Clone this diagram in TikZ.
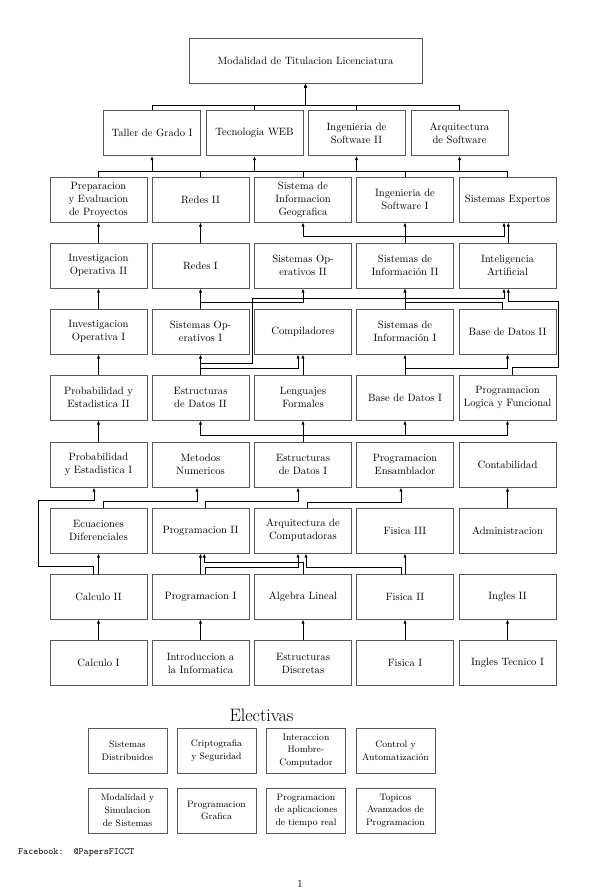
\documentclass[tikz,border=0pt]{standalone}
\usetikzlibrary{arrows.meta}
\begin{document}
\begin{tikzpicture}[x=1pt,y=-1pt,
  box/.style={draw=black!65,line width=1pt,minimum width=97pt,minimum height=45pt,inner sep=0pt,align=center,font=\fontsize{10.6}{13}\selectfont},
  ebox/.style={draw=black!65,line width=1pt,minimum width=79pt,minimum height=45pt,inner sep=0pt,align=center,font=\fontsize{9.4}{12.7}\selectfont},
  con/.style={line width=0.75pt,black},
  arr/.style={con,-{Latex[length=4pt,width=3.2pt]}}]
\useasboundingbox (0,0) rectangle (599,894);
% top
\node[box,minimum width=233pt] (top) at (305.5,60.5) {Modalidad de Titulacion Licenciatura};
% row 1
\node[box] (tg) at (152,133) {Taller de Grado I};
\node[box] (web) at (254.5,133) {Tecnologia WEB};
\node[box] (isw2) at (356.5,133) {Ingenieria de\\Software II};
\node[box] (arqs) at (459.5,133) {Arquitectura\\de Software};
% row 2
\node[box] (prep) at (98.5,199.5) {Preparacion\\y Evaluacion\\de Proyectos};
\node[box] (redes2) at (200.5,199.5) {Redes II};
\node[box] (sig) at (303,199.5) {Sistema de\\Informacion\\Geografica};
\node[box] (isw1) at (405,199.5) {Ingenieria de\\Software I};
\node[box] (se) at (507.5,199.5) {Sistemas Expertos};
% row 3
\node[box] (io2) at (98.5,265.5) {Investigacion\\Operativa II};
\node[box] (redes1) at (200.5,265.5) {Redes I};
\node[box] (so2) at (303,265.5) {Sistemas Op-\\erativos II};
\node[box] (si2) at (405,265.5) {Sistemas de\\Información II};
\node[box] (ia) at (507.5,265.5) {Inteligencia\\Artificial};
% row 4
\node[box] (io1) at (98.5,331.5) {Investigacion\\Operativa I};
\node[box] (so1) at (200.5,331.5) {Sistemas Op-\\erativos I};
\node[box] (comp) at (303,331.5) {Compiladores};
\node[box] (si1) at (405,331.5) {Sistemas de\\Información I};
\node[box] (bd2) at (507.5,331.5) {Base de Datos II};
% row 5
\node[box] (prob2) at (98.5,397.5) {Probabilidad y\\Estadistica II};
\node[box] (ed2) at (200.5,397.5) {Estructuras\\de Datos II};
\node[box] (lf) at (303,397.5) {Lenguajes\\Formales};
\node[box] (bd1) at (405,397.5) {Base de Datos I};
\node[box] (plf) at (507.5,397.5) {Programacion\\Logica y Funcional};
% row 6
\node[box] (prob1) at (98.5,464.5) {Probabilidad\\y Estadistica I};
\node[box] (mn) at (200.5,464.5) {Metodos\\Numericos};
\node[box] (ed1) at (303,464.5) {Estructuras\\de Datos I};
\node[box] (pe) at (405,464.5) {Programacion\\Ensamblador};
\node[box] (cont) at (507.5,464.5) {Contabilidad};
% row 7
\node[box] (ecu) at (98.5,530.5) {Ecuaciones\\Diferenciales};
\node[box] (prog2) at (200.5,530.5) {Programacion II};
\node[box] (arq) at (303,530.5) {Arquitectura de\\Computadoras};
\node[box] (fis3) at (405,530.5) {Fisica III};
\node[box] (adm) at (507.5,530.5) {Administracion};
% row 8
\node[box] (cal2) at (98.5,596.5) {Calculo II};
\node[box] (prog1) at (200.5,596.5) {Programacion I};
\node[box] (alg) at (303,596.5) {Algebra Lineal};
\node[box] (fis2) at (405,596.5) {Fisica II};
\node[box] (ing2) at (507.5,596.5) {Ingles II};
% row 9
\node[box] (cal1) at (98.5,663) {Calculo I};
\node[box] (intro) at (200.5,663) {Introduccion a\\la Informatica};
\node[box] (disc) at (303,663) {Estructuras\\Discretas};
\node[box] (fis1) at (405,663) {Fisica I};
\node[box] (ingt) at (507.5,663) {Ingles Tecnico I};

% R1 -> top
\foreach \n in {tg,web,isw2,arqs} \draw[arr] (\n.north) -- ++(0,-5) -| (top.south);
% R2 -> R1
\foreach \n in {tg,web,isw2,arqs} \draw[arr] (prep.north) -- ++(0,-5) -| (\n.south);
\foreach \n in {redes2,sig,isw1,se} \draw[con] (\n.north) -- ++(0,-5) -| (prep.north);
% R3 -> R2
\draw[arr] (io2.north) -- (prep.south);
\draw[arr] (redes1.north) -- (redes2.south);
\draw[arr] (si2.north) -- (isw1.south);
\draw[arr] (si2.north) -- ++(0,-6) -| (sig.south);
\draw[arr] (si2.north) -- ++(0,-6) -| ([xshift=-3.5pt]se.south);
\draw[arr] ([xshift=0.8pt]ia.north) -- ([xshift=0.8pt]se.south);
% R4 -> R3
\draw[arr] (io1.north) -- (io2.south);
\draw[arr] (so1.north) -- (redes1.south);
\draw[arr] (so1.north) -- ++(0,-6) -| (so2.south);
\draw[arr] (si1.north) -- (si2.south);
\draw[arr] ([xshift=-5.5pt]bd2.north) -- ++(0,-6) -| (si2.south);
% R5 -> R4
\draw[arr] (prob2.north) -- (io1.south);
\draw[arr] (ed2.north) -- (so1.south);
\draw[arr] (ed2.north) -- ++(0,-11) -| (252,298) -| ([xshift=-3.5pt]ia.south);
\draw[arr] (ed2.north) -- ++(0,-6) -| ([xshift=-5pt]comp.south);
\draw[arr] (lf.north) -- (comp.south);
\draw[arr] (bd1.north) -- (si1.south);
\draw[arr] (bd1.north) -- ++(0,-6) -| (bd2.south);
\draw[arr] ([xshift=4.5pt]plf.north) -- ++(0,-7) -| (558,301) -| ([xshift=0.8pt]ia.south);
% R6 -> R5
\draw[arr] (prob1.north) -- (prob2.south);
\draw[arr] (ed1.north) -- (lf.south);
\draw[arr] (ed1.north) -- ++(0,-6) -| (ed2.south);
\draw[arr] (ed1.north) -- ++(0,-6) -| (bd1.south);
\draw[arr] (ed1.north) -- ++(0,-6) -| (plf.south);
% R7 -> R6
\draw[arr] ([xshift=4.5pt]ecu.north) -- ++(0,-6) -| ([xshift=-3.5pt]mn.south);
\draw[arr] ([xshift=4.5pt]prog2.north) -- ++(0,-6) -| ([xshift=-5pt]ed1.south);
\draw[arr] ([xshift=4pt]arq.north) -- ++(0,-5) -| ([xshift=-4pt]pe.south);
\draw[arr] (adm.north) -- (cont.south);
% R8 -> R7
\draw[arr] (cal2.north) -- (ecu.south);
\draw[arr] ([xshift=-5.5pt]cal2.north) -- ++(0,-7) -| (38,500) -| ([xshift=-4.5pt]prob1.south);
\draw[arr] (prog1.north) -- (prog2.south);
\draw[arr] (alg.north) -- ++(0,-11) -| ([xshift=3.8pt]prog2.south);
\draw[arr] ([xshift=5pt]prog1.north) -- ++(0,-6) -| ([xshift=-5pt]arq.south);
\draw[arr] ([xshift=-4pt]fis2.north) -- ++(0,-6) -| ([xshift=3pt]arq.south);
\draw[arr] (fis2.north) -- (fis3.south);
% R9 -> R8
\draw[arr] (cal1.north) -- (cal2.south);
\draw[arr] (intro.north) -- (prog1.south);
\draw[arr] (disc.north) -- (alg.south);
\draw[arr] (fis1.north) -- (fis2.south);
\draw[arr] (ingt.north) -- (ing2.south);

% Electivas
\node[anchor=base,inner sep=0pt,font=\fontsize{18}{21}\selectfont] (elect) at (261.5,721) {Electivas};
\node[ebox] (e1) at (127.5,750.5) {Sistemas\\Distribuidos};
\node[ebox] (e2) at (216.5,750.5) {Criptografia\\y Seguridad};
\node[ebox] (e3) at (306,750.5) {Interaccion\\Hombre-\\Computador};
\node[ebox] (e4) at (395.5,750.5) {Control y\\Automatización};
\node[ebox] (e5) at (127.5,810.5) {Modalidad y\\Simulacion\\de Sistemas};
\node[ebox] (e6) at (216.5,810.5) {Programacion\\Grafica};
\node[ebox] (e7) at (306,810.5) {Programacion\\de aplicaciones\\de tiempo real};
\node[ebox] (e8) at (395.5,810.5) {Topicos\\Avanzados de\\Programacion};

\node[anchor=base west,inner sep=0pt,font=\fontsize{9.6}{11}\ttfamily] (fb) at (18,854.5) {Facebook:\ \ @PapersFICCT};
\node[anchor=base,inner sep=0pt,font=\fontsize{10.6}{13}\selectfont] (pg) at (300,887) {1};
\end{tikzpicture}
\end{document}
